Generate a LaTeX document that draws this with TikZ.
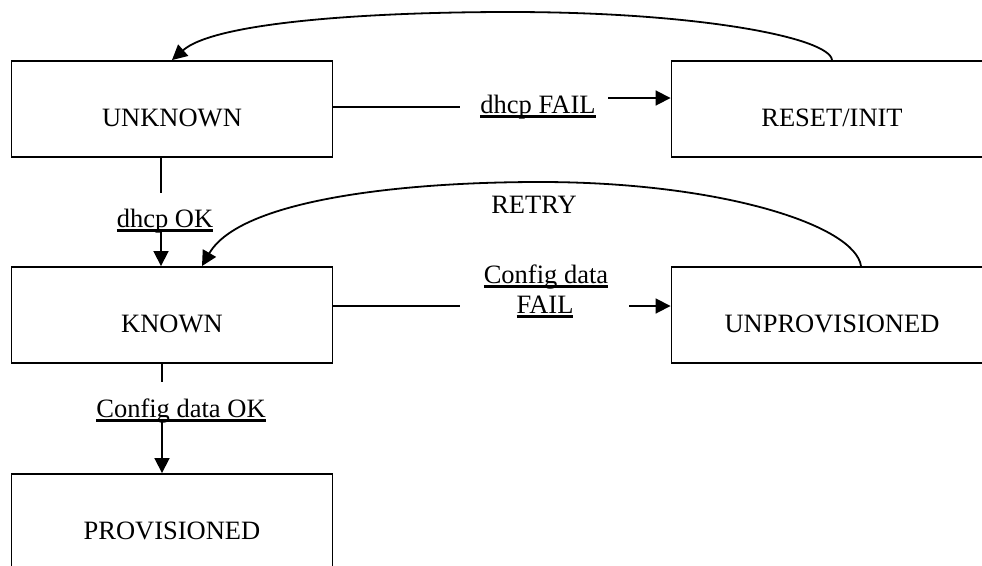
\documentclass[tikz,border=0pt]{standalone}
\usepackage{fontspec}
\setmainfont{Liberation Serif}
\usetikzlibrary{arrows.meta}
\newcommand\myul[1]{\setbox0\hbox{#1}\rlap{\vrule height -2.3pt depth 4.8pt width \wd0}\box0}
\begin{document}
\begin{tikzpicture}[x=1pt,y=-1pt,
  stbox/.style={draw, line width=1.9pt, minimum width=321pt, minimum height=96pt,
    inner sep=0pt, text height=34pt, text depth=0pt, font=\fontsize{26.5}{30}\selectfont},
  lbl/.style={anchor=base, inner sep=0pt, font=\fontsize{26.5}{30}\selectfont},
  conn/.style={line width=1.8pt},
  arrowc/.style={line width=1.8pt, -{Triangle[length=15pt,width=15pt]}}]
\useasboundingbox (0,0) rectangle (982,565);
\clip (0,0) rectangle (982,565);
% states
\node[stbox] (unk) at (172,109) {UNKNOWN};
\node[stbox] (rst) at (832,109) {RESET/INIT};
\node[stbox] (kn) at (172,315) {KNOWN};
\node[stbox] (unp) at (832,315) {UNPROVISIONED};
\node[stbox] (prov) at (172,522) {PROVISIONED};
% labels
\node[lbl] (lfail) at (538,113) {\myul{dhcp FAIL}};
\node[lbl] (lok) at (165,227) {\myul{dhcp OK}};
\node[lbl] (lretry) at (534,213) {RETRY};
\node[lbl] (lcf1) at (546,283) {\myul{Config data}};
\node[lbl] (lcf2) at (545,313) {\myul{FAIL}};
\node[lbl] (lcok) at (181,417) {\myul{Config data OK}};
% UNKNOWN -> RESET/INIT
\coordinate (a1) at (460,107);
\draw[conn] ([yshift=2pt]unk.east) -- (a1);
\coordinate (a2) at (608,98);
\draw[arrowc] (a2) -- (a2 -| rst.west);
% UNKNOWN -> KNOWN
\coordinate (b1) at (161,193);
\draw[conn] (b1 |- unk.south) -- (b1);
\coordinate (b2) at (161,230);
\draw[arrowc] (b2) -- (b2 |- kn.north);
% KNOWN -> UNPROVISIONED
\coordinate (c1) at (460,306);
\draw[conn] (c1 -| kn.east) -- (c1);
\coordinate (c2) at (629,306);
\draw[arrowc] (c2) -- (c2 -| unp.west);
% KNOWN -> PROVISIONED
\coordinate (d1) at (162,382);
\draw[conn] (d1 |- kn.south) -- (d1);
\coordinate (d2) at (162,419);
\draw[arrowc] (d2) -- (d2 |- prov.north);
% RESET/INIT -> UNKNOWN
\coordinate (pk1) at (510,12);
\draw[arrowc] (rst.north) .. controls (830,38) and (700,12) .. (pk1)
  .. controls (370,12) and (215,22) .. (unk.north);
% UNPROVISIONED -> KNOWN (RETRY)
\coordinate (pk2) at (540,182);
\draw[arrowc] ([xshift=29pt]unp.north) .. controls (855,225) and (720,182) .. (pk2)
  .. controls (400,182) and (240,200) .. ([xshift=30pt]kn.north);
\end{tikzpicture}
\end{document}
